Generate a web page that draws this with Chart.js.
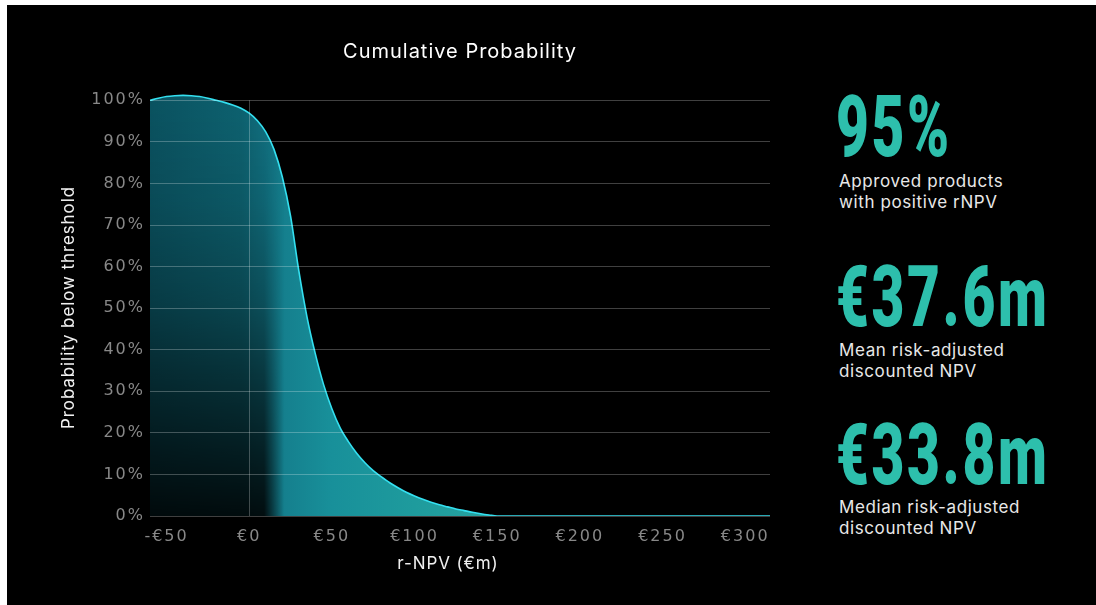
<!DOCTYPE html>
<html><head><meta charset="utf-8">
<script src="https://cdn.jsdelivr.net/npm/chart.js@4.4.1/dist/chart.umd.min.js"></script>
<style>
html,body{margin:0;padding:0;background:#fff;width:1096px;height:605px;overflow:hidden}
#panel{position:absolute;left:7px;top:5px;width:1089px;height:600px;background:#000}
#wrap{position:absolute;left:7px;top:5px;width:793px;height:600px}
.big{position:absolute;left:836px;font-family:Roboto,sans-serif;font-weight:900;font-size:86px;line-height:86px;color:#2dbfac;transform:scaleX(0.66);transform-origin:0 0;letter-spacing:4px;white-space:nowrap}
.sub{position:absolute;left:839px;font-family:Inter,sans-serif;font-size:17px;line-height:21px;color:#e8e8e8;letter-spacing:0.6px;white-space:nowrap}
</style></head>
<body>
<div id="panel"></div>
<div id="wrap"><canvas id="c" width="793" height="600"></canvas></div>
<script>
// ---- data ----
const xValues    = [-60,-55,-50,-45,-40,-35,-30,-25,-20,-15,-10,-5,0,5,10,15,20,25,30,35,40,45,50,55,60,65,70,75,80,85,90,95,100,105,110,115,120,125,130,135,140,145,150,200,250,300,315];
const probValues = [100,100.5,100.9,101.1,101.2,101.1,100.9,100.5,100.0,99.5,98.9,98.1,96.9,95.1,92.4,88.2,81.6,72.2,59.0,47.8,39.0,31.6,25.8,21.2,17.9,15.1,12.8,10.9,9.4,8.0,6.8,5.7,4.8,4.0,3.3,2.7,2.2,1.7,1.3,0.9,0.55,0.25,0,0,0,0,0];
const xTickValues = [-50,0,50,100,150,200,250,300];
const yTickValues = [0,10,20,30,40,50,60,70,80,90,100];
const statValues = ['95%','€37.6m','€33.8m'];
const statLabels = [['Approved products','with positive rNPV'],['Mean risk-adjusted','discounted NPV'],['Median risk-adjusted','discounted NPV']];

// ---- layout of the side panel ----
const statTops = [84,254,412];
const labelTops = [171,340,497];
statValues.forEach((v,i)=>{
  const d=document.createElement('div'); d.className='big'; d.style.top=statTops[i]+'px'; d.textContent=v; document.body.appendChild(d);
  const s=document.createElement('div'); s.className='sub'; s.style.top=labelTops[i]+'px';
  statLabels[i].forEach((t,j)=>{ if(j) s.appendChild(document.createElement('br')); s.appendChild(document.createTextNode(t)); });
  document.body.appendChild(s);
});

const GRID = 'rgba(255,255,255,0.25)';
const TICK_SPACING = '2px';
const TITLE_SPACING = '0.9px';
const TITLE_SHIFT = {x:[-12,0], y:[0,3.5]};

class SpacedLinearScale extends Chart.LinearScale {
  drawLabels(area){ const c=this.ctx; c.save(); c.letterSpacing=TICK_SPACING; super.drawLabels(area); c.restore(); }
  drawTitle(){ const c=this.ctx; c.save(); c.letterSpacing=TITLE_SPACING; const o=TITLE_SHIFT[this.id]||[0,0]; c.translate(o[0],o[1]); super.drawTitle(); c.restore(); }
}
SpacedLinearScale.id='spacedLinear';
SpacedLinearScale.defaults={};
Chart.register(SpacedLinearScale);

let fillCache=null;
function makeFill(chart){
  const a=chart.chartArea; if(!a) return '#14808e';
  const xs=chart.scales.x, ys=chart.scales.y;
  const key=[a.left,a.top,a.right,a.bottom,chart.width,chart.height].join(',');
  if(fillCache && fillCache.key===key) return fillCache.pat;
  const W=chart.width,H=chart.height;
  const base=document.createElement('canvas'); base.width=W; base.height=H;
  const g=base.getContext('2d');
  const x0=xs.getPixelForValue(-60), x1=xs.getPixelForValue(150);
  const f=v=>(xs.getPixelForValue(v)-x0)/(x1-x0);
  const hg=g.createLinearGradient(x0,0,x1,0);
  hg.addColorStop(0,'#0b5361'); hg.addColorStop(f(-5),'#0e6270'); hg.addColorStop(f(10),'#117080');
  hg.addColorStop(f(22),'#15808e'); hg.addColorStop(f(50),'#18909a'); hg.addColorStop(f(100),'#1e9b9d'); hg.addColorStop(1,'#27a4a0');
  g.fillStyle=hg; g.fillRect(0,0,W,H);
  const ov=document.createElement('canvas'); ov.width=W; ov.height=H;
  const o=ov.getContext('2d');
  const yt=ys.getPixelForValue(100), yb=ys.getPixelForValue(0);
  const vg=o.createLinearGradient(0,yt,0,yb);
  vg.addColorStop(0,'rgba(0,0,0,0)'); vg.addColorStop(0.25,'rgba(0,0,0,0.1)'); vg.addColorStop(0.5,'rgba(0,0,0,0.3)');
  vg.addColorStop(0.75,'rgba(0,0,0,0.6)'); vg.addColorStop(1,'rgba(0,0,0,0.88)');
  o.fillStyle=vg; o.fillRect(0,0,W,H);
  o.globalCompositeOperation='destination-in';
  const m0=xs.getPixelForValue(9), m1=xs.getPixelForValue(21);
  const mg=o.createLinearGradient(m0,0,m1,0);
  mg.addColorStop(0,'rgba(0,0,0,1)'); mg.addColorStop(1,'rgba(0,0,0,0)');
  o.fillStyle=mg; o.fillRect(0,0,W,H);
  g.drawImage(ov,0,0);
  const pat=chart.ctx.createPattern(base,'no-repeat');
  fillCache={key,pat}; return pat;
}

const zeroLine={id:'zeroLine',afterDatasetsDraw(chart){
  const {ctx,scales:{x,y}}=chart; const px=Math.round(x.getPixelForValue(0))+0.5;
  ctx.save(); ctx.strokeStyle=GRID; ctx.lineWidth=1; ctx.beginPath();
  ctx.moveTo(px,y.getPixelForValue(100)); ctx.lineTo(px,y.getPixelForValue(0)); ctx.stroke(); ctx.restore();
}};
const spacing={id:'spacing',beforeDraw(chart){chart.ctx.letterSpacing='1px';},afterDraw(chart){chart.ctx.letterSpacing='0px';}};

new Chart(document.getElementById('c'),{
  type:'line',
  data:{datasets:[{
    data:xValues.map((x,i)=>({x,y:probValues[i]})),
    borderColor:'#34e0f0', borderWidth:1.6, pointRadius:0, fill:'origin',
    backgroundColor:(c)=>makeFill(c.chart),
    cubicInterpolationMode:'monotone'
  }]},
  options:{
    responsive:false, devicePixelRatio:1, animation:false,
    layout:{padding:{left:40,right:30,top:0,bottom:20}},
    plugins:{
      legend:{display:false}, tooltip:{enabled:false},
      title:{display:true,text:'Cumulative Probability',color:'#ffffff',fullSize:false,
        font:{family:'Inter',size:20,weight:'normal',lineHeight:1.2},padding:{top:35,bottom:28}}
    },
    scales:{
      x:{type:'spacedLinear',min:-60,max:315,
        afterBuildTicks:(s)=>{s.ticks=xTickValues.map(v=>({value:v}));},
        afterFit:(s)=>{s.height=69;},
        ticks:{callback:(v)=>(v<0?'-€':'€')+Math.abs(v),color:'#888888',font:{family:'DejaVu Sans',size:16},padding:3,maxRotation:0,autoSkip:false},
        grid:{display:false},
        border:{display:false},
        title:{display:true,text:'r-NPV (€m)',color:'#f0f0f0',font:{family:'Inter',size:17,lineHeight:1.2},padding:{top:0,bottom:11}}
      },
      y:{type:'spacedLinear',min:0,max:102,
        afterBuildTicks:(s)=>{s.ticks=yTickValues.map(v=>({value:v}));},
        afterFit:(s)=>{s.width=103;},
        ticks:{callback:(v)=>v+'%',color:'#888888',font:{family:'DejaVu Sans',size:16},padding:5},
        grid:{color:GRID,lineWidth:1,drawTicks:false,z:1},
        border:{display:false},
        title:{display:true,text:'Probability below threshold',color:'#f0f0f0',font:{family:'Inter',size:17,lineHeight:1.2},padding:{top:12,bottom:0}}
      }
    }
  },
  plugins:[zeroLine,spacing]
});
</script>
</body></html>
